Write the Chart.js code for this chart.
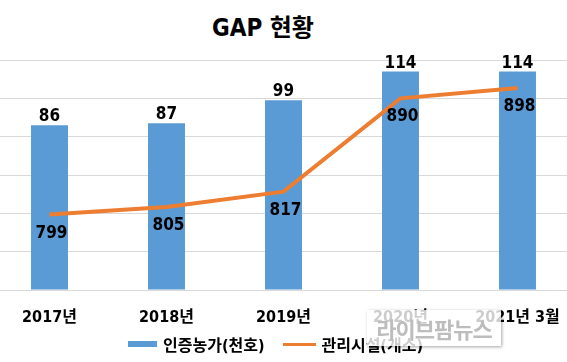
<!DOCTYPE html>
<html lang="ko">
<head>
    <meta charset="utf-8">
    <title>GAP 현황</title>
    <script src="https://cdn.jsdelivr.net/npm/chart.js"></script>
    <style>
        body {
            margin: 0;
            width: 567px;
            height: 362px;
            overflow: hidden;
            background: white;
            position: relative;
            font-family: 'DejaVu Sans Condensed', 'Noto Sans CJK KR', sans-serif;
            font-weight: bold;
        }
        .chart-container {
            position: absolute;
            left: -9px;
            top: 0;
            width: 585px;
            height: 362px;
        }
        .chart-title {
            position: absolute;
            left: 0;
            width: 526px;
            top: 8px;
            text-align: center;
            font-size: 24px;
            color: #000;
        }
        .chart-legend {
            position: absolute;
            left: 128px;
            top: 332px;
            display: flex;
            align-items: center;
            font-size: 16px;
            color: #000;
            white-space: nowrap;
        }
        .legend-box {
            width: 29px;
            height: 6px;
            margin-right: 6px;
        }
        .legend-line {
            width: 33px;
            height: 3px;
            margin-left: 19px;
            margin-right: 5px;
        }
        .watermark {
            position: absolute;
            left: 367px;
            top: 310px;
            width: 134px;
            height: 36px;
            background: rgba(255, 255, 255, 0.8);
            box-shadow: 1px 1px 3px rgba(0, 0, 0, 0.35);
            color: #bdbdbd;
            font-family: 'Noto Sans CJK KR', sans-serif;
            font-size: 22px;
            font-weight: bold;
            line-height: 36px;
            text-align: center;
            letter-spacing: -1px;
        }
    </style>
</head>
<body>
    <div class="chart-title">GAP 현황</div>
    <div class="chart-container">
        <canvas id="gapChart"></canvas>
    </div>
    <div class="chart-legend" id="legend"></div>
    <div class="watermark">라이브팜뉴스</div>

    <script>
        const years = ['2017년', '2018년', '2019년', '2020년', '2021년 3월'];
        const farms = [86, 87, 99, 114, 114];           // 인증농가(천호)
        const facilities = [799, 805, 817, 890, 898];   // 관리시설(개소)

        const FONT = "'DejaVu Sans Condensed', 'Noto Sans CJK KR', sans-serif";
        const BLUE = '#5B9BD5';
        const ORANGE = '#ED7D31';

        // 값 라벨 직접 그리기
        const valueLabels = {
            id: 'valueLabels',
            afterDatasetsDraw(chart) {
                const ctx = chart.ctx;
                ctx.save();
                ctx.font = 'bold 17px ' + FONT;
                ctx.fillStyle = '#000';
                ctx.textAlign = 'center';
                ctx.textBaseline = 'alphabetic';
                chart.getDatasetMeta(0).data.forEach((bar, i) => {
                    ctx.fillText(farms[i], bar.x, bar.y - 4);
                });
                chart.getDatasetMeta(1).data.forEach((pt, i) => {
                    ctx.fillText(facilities[i], pt.x + 2, pt.y + 23);
                });
                ctx.restore();
            }
        };

        const ctx = document.getElementById('gapChart').getContext('2d');
        const chart = new Chart(ctx, {
            type: 'bar',
            data: {
                labels: years,
                datasets: [{
                    type: 'bar',
                    label: '인증농가(천호)',
                    data: farms,
                    backgroundColor: BLUE,
                    barPercentage: 0.316,
                    categoryPercentage: 1,
                    yAxisID: 'y',
                    order: 2
                }, {
                    type: 'line',
                    label: '관리시설(개소)',
                    data: facilities,
                    borderColor: ORANGE,
                    backgroundColor: ORANGE,
                    borderWidth: 4,
                    pointRadius: 0,
                    tension: 0,
                    yAxisID: 'y1',
                    order: 1
                }]
            },
            options: {
                responsive: true,
                maintainAspectRatio: false,
                animation: false,
                layout: { padding: { top: 60, bottom: 0, left: 0, right: 0 } },
                plugins: {
                    legend: { display: false },
                    title: { display: false },
                    tooltip: { enabled: false }
                },
                scales: {
                    x: {
                        grid: { display: false },
                        border: { display: false },
                        ticks: {
                            color: '#000',
                            font: { family: FONT, size: 16, weight: 'bold' },
                            padding: 10,
                            maxRotation: 0,
                            autoSkip: false
                        },
                        afterFit(scale) { scale.height = 72; }
                    },
                    y: {
                        position: 'left',
                        min: 0,
                        max: 120,
                        ticks: { display: false, stepSize: 20 },
                        grid: { color: '#d9d9d9', lineWidth: 1, drawTicks: false },
                        border: { display: false },
                        afterFit(scale) { scale.width = 0; }
                    },
                    y1: {
                        position: 'right',
                        display: false,
                        min: 740,
                        max: 920
                    }
                }
            },
            plugins: [valueLabels]
        });

        // 범례
        const legend = document.getElementById('legend');
        legend.innerHTML =
            '<span class="legend-box" style="background:' + BLUE + '"></span>' +
            '<span>' + chart.data.datasets[0].label + '</span>' +
            '<span class="legend-line" style="background:' + ORANGE + '"></span>' +
            '<span>' + chart.data.datasets[1].label + '</span>';
    </script>
</body>
</html>
